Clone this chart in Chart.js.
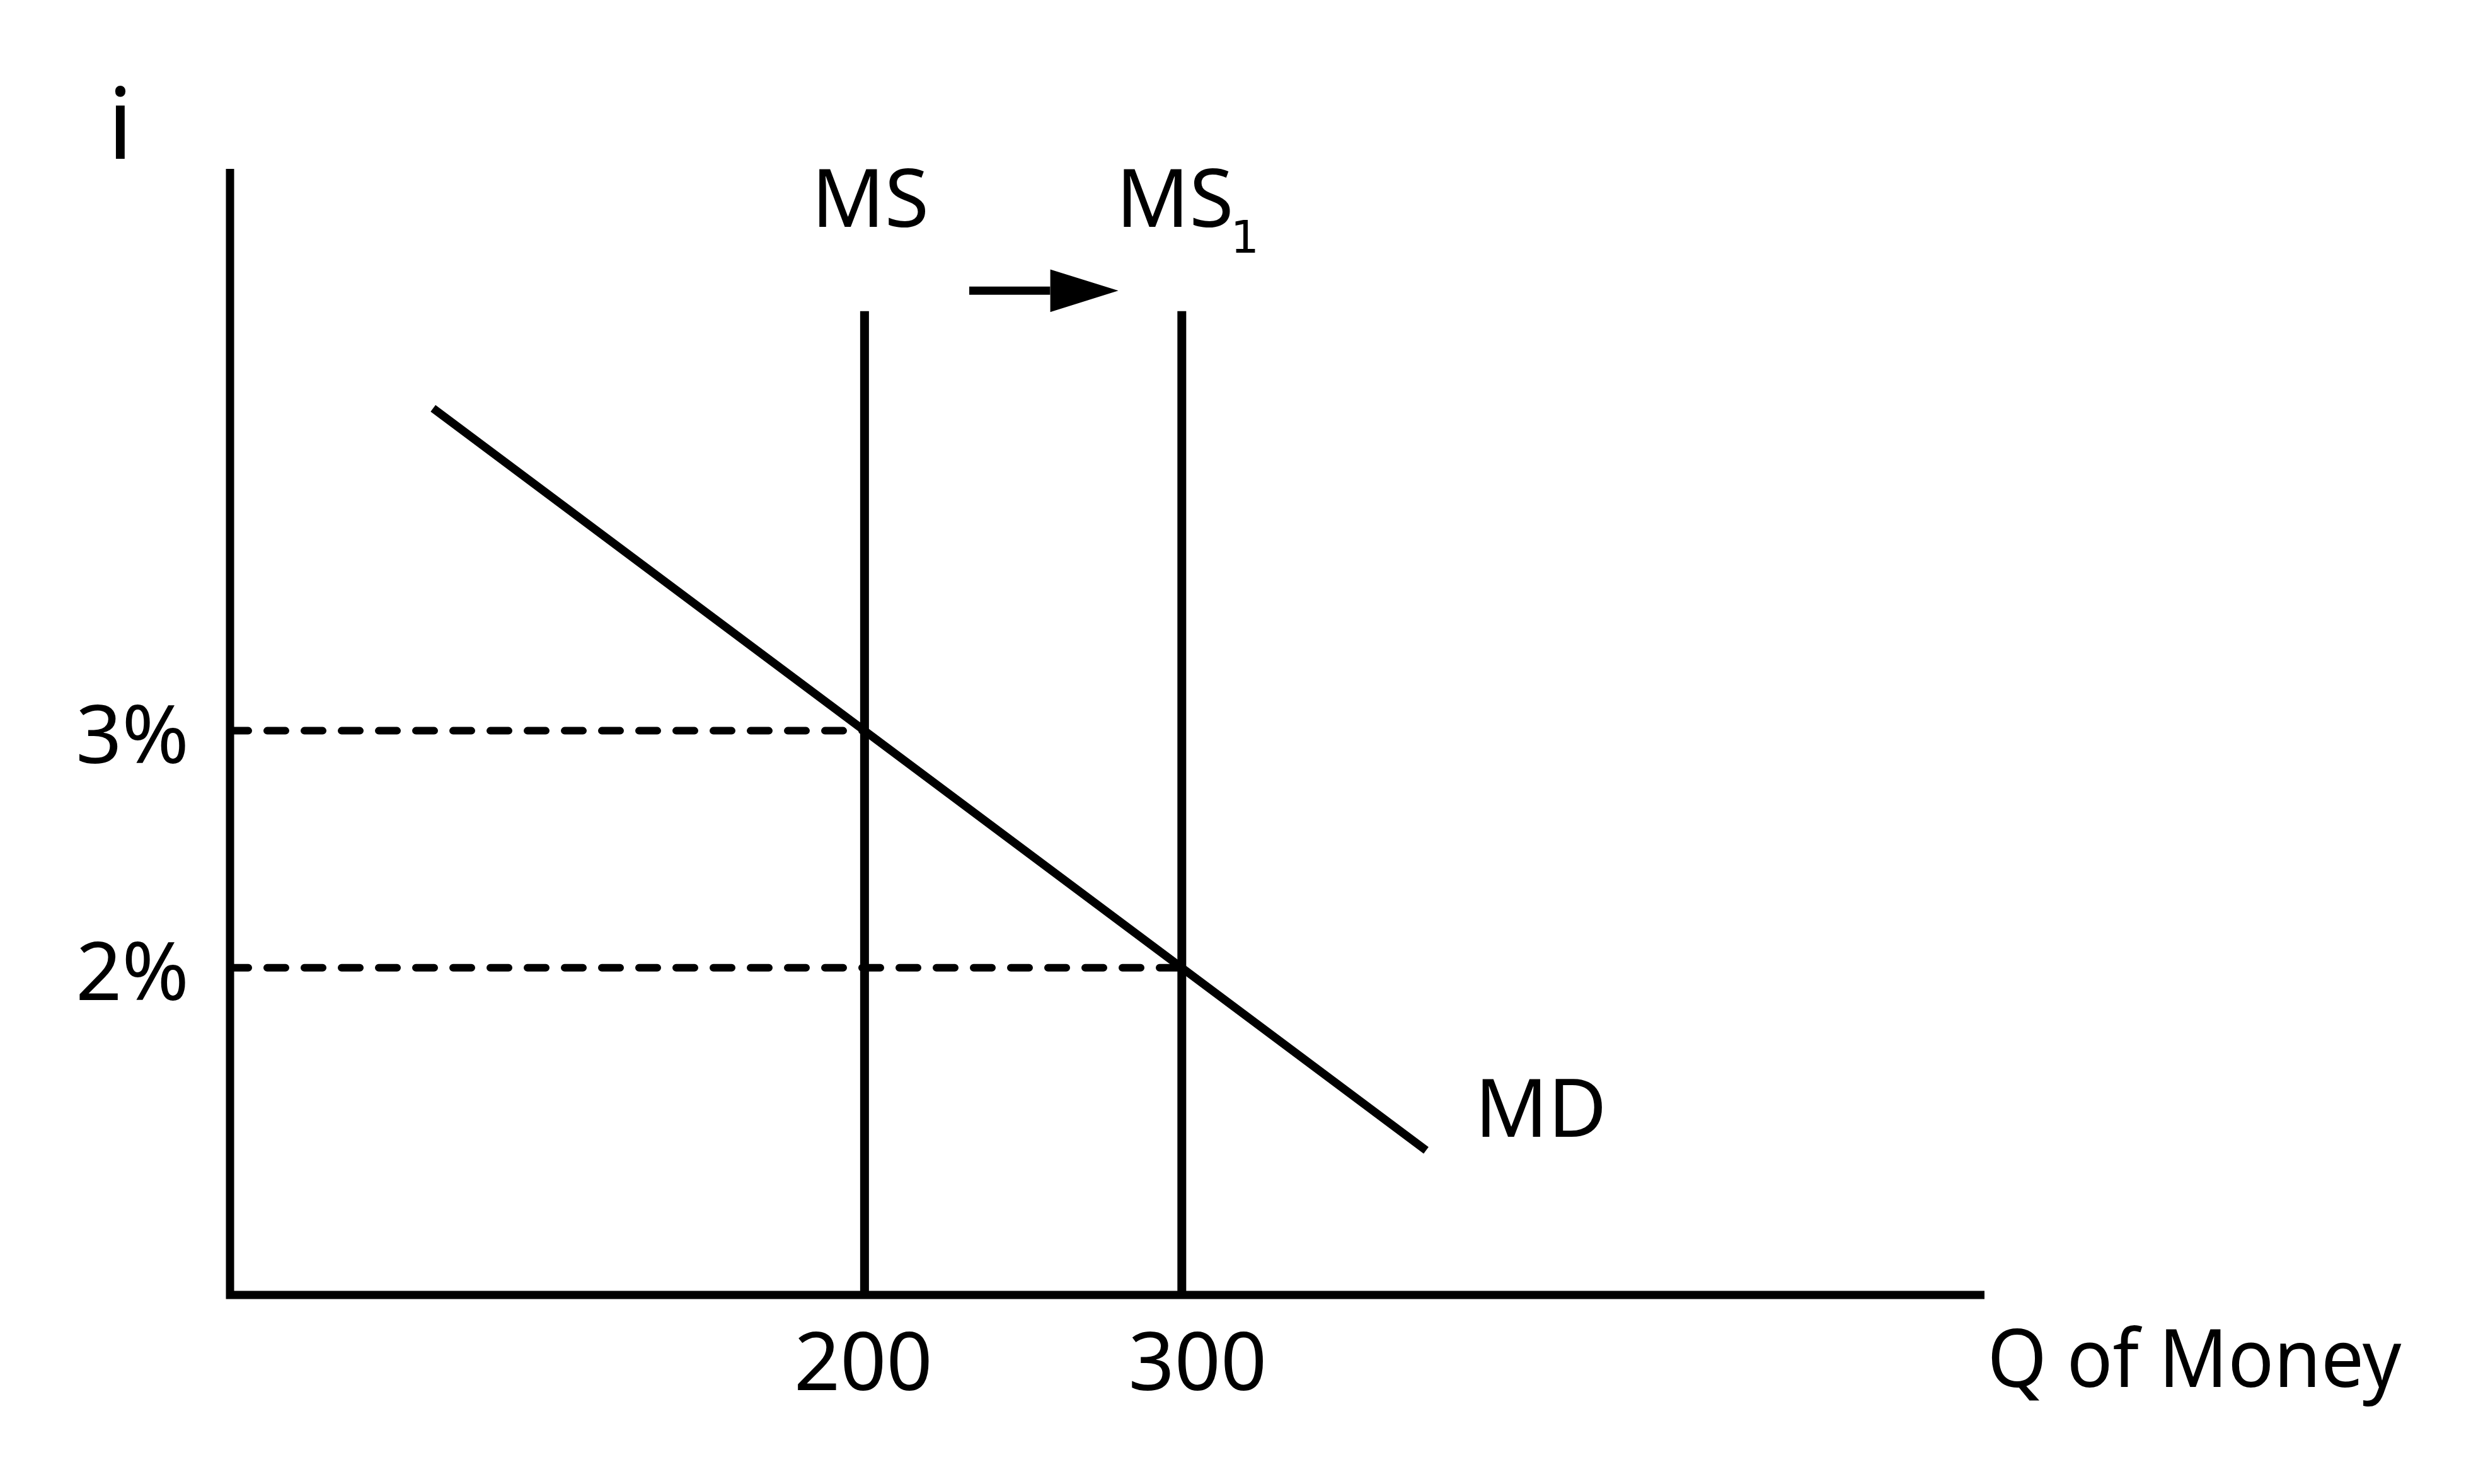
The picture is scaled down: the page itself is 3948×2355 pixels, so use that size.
<!DOCTYPE html>
<html>
<head>
<meta charset="utf-8">
<script src="https://cdn.jsdelivr.net/npm/chart.js"></script>
<style>
  html, body { margin: 0; padding: 0; background: #fff; }
  #wrap { width: 3948px; height: 2355px; }
</style>
</head>
<body>
<div id="wrap"><canvas id="chart" width="3948" height="2355"></canvas></div>
<script>
// money market: supply shift lowers the interest rate
const rates = [3, 2];                 // equilibrium i (%)
const rateLabels = ['3%', '2%'];
const quantities = [200, 300];        // MS, MS1
const quantityLabels = ['200', '300'];
const supplyNames = ['MS', 'MS'];
const supplySubs = ['', '1'];
const supplyTop = 4.77;               // where the MS lines end
const mdQ = [64, 377];                // money demand ends
const mdI = [4.36, 1.23];
const arrowQ = [233, 258.5, 280];     // shaft start, head base, tip
const arrowI = 4.856;
const arrowHalf = 0.09;
const qMax = 553;
const iMin = 0.62;
const iMax = 5.37;

const INK = '#000';
const FONT = '"Noto Sans", "Open Sans", sans-serif';

function seg(x0, y0, x1, y1, extra) {
	return Object.assign({
		data: [{ x: x0, y: y0 }, { x: x1, y: y1 }],
		showLine: true,
		borderColor: INK,
		backgroundColor: INK,
		borderWidth: 13,
		pointRadius: 0,
		clip: false,
		fill: false
	}, extra || {});
}

const datasets = [];
// dashed guides
rates.forEach((r, k) => {
	datasets.push(seg(0, r, quantities[k], r, { borderWidth: 12, borderDash: [29, 30], borderCapStyle: 'round' }));
});
// supply lines
quantities.forEach(q => datasets.push(seg(q, iMin, q, supplyTop, { borderWidth: 14 })));
// demand
datasets.push(seg(mdQ[0], mdI[0], mdQ[1], mdI[1]));
// axes
datasets.push({
	data: [{ x: 0, y: iMax }, { x: 0, y: iMin }, { x: qMax, y: iMin }],
	showLine: true, borderColor: INK, borderWidth: 13, pointRadius: 0,
	borderJoinStyle: 'miter', clip: false, fill: false
});
// shift arrow: shaft + filled head (upper edge filled down to lower edge)
datasets.push(seg(arrowQ[0], arrowI, arrowQ[1], arrowI));
datasets.push(seg(arrowQ[1], arrowI + arrowHalf, arrowQ[2], arrowI, { borderWidth: 0, fill: '+1' }));
datasets.push(seg(arrowQ[1], arrowI - arrowHalf, arrowQ[2], arrowI, { borderWidth: 0 }));

// draws text centred at x, squeezed so the ink is no wider than inkW
function squeezed(ctx, text, x, y, inkW) {
	const m = ctx.measureText(text);
	const w = m.actualBoundingBoxLeft + m.actualBoundingBoxRight;
	const s = Math.min(1, inkW / w);
	ctx.save();
	ctx.translate(x, y);
	ctx.scale(s, 1);
	ctx.fillText(text, 0, 0);
	ctx.restore();
}

const labels = {
	id: 'labels',
	afterDatasetsDraw(chart) {
		const ctx = chart.ctx;
		const px = v => chart.scales.x.getPixelForValue(v);
		const py = v => chart.scales.y.getPixelForValue(v);
		ctx.save();
		ctx.fillStyle = INK;
		ctx.textAlign = 'center';
		ctx.textBaseline = 'alphabetic';

		ctx.font = '158px ' + FONT;
		ctx.fillText('i', px(0) - 174, py(iMax) - 16);

		ctx.font = '128px ' + FONT;
		rates.forEach((r, k) => ctx.fillText(rateLabels[k], px(0) - 155, py(r) + 51));

		const qdx = [-2, 25];
		quantities.forEach((q, k) => ctx.fillText(quantityLabels[k], px(q) + qdx[k], py(iMin) + 151));

		const sdx = [9, -11];
		quantities.forEach((q, k) => ctx.fillText(supplyNames[k], px(q) + sdx[k], py(supplyTop) - 134));

		ctx.fillText('MD', px(mdQ[1]) + 182, py(mdI[1]) - 22);
		squeezed(ctx, 'Q of Money', px(qMax) + 333, py(iMin) + 146, 651);

		ctx.font = '71px "DejaVu Sans", sans-serif';
		quantities.forEach((q, k) => {
			if (supplySubs[k]) ctx.fillText(supplySubs[k], px(q) + 100, py(supplyTop) - 93);
		});
		ctx.restore();
	}
};

new Chart(document.getElementById('chart'), {
	type: 'scatter',
	data: { datasets },
	options: {
		responsive: false,
		animation: false,
		devicePixelRatio: 1,
		layout: { padding: { left: 365, right: 799, top: 268, bottom: 300 } },
		plugins: { legend: { display: false }, tooltip: { enabled: false } },
		scales: {
			x: { type: 'linear', min: 0, max: qMax, display: false },
			y: { type: 'linear', min: iMin, max: iMax, display: false }
		}
	},
	plugins: [labels]
});
</script>
</body>
</html>
